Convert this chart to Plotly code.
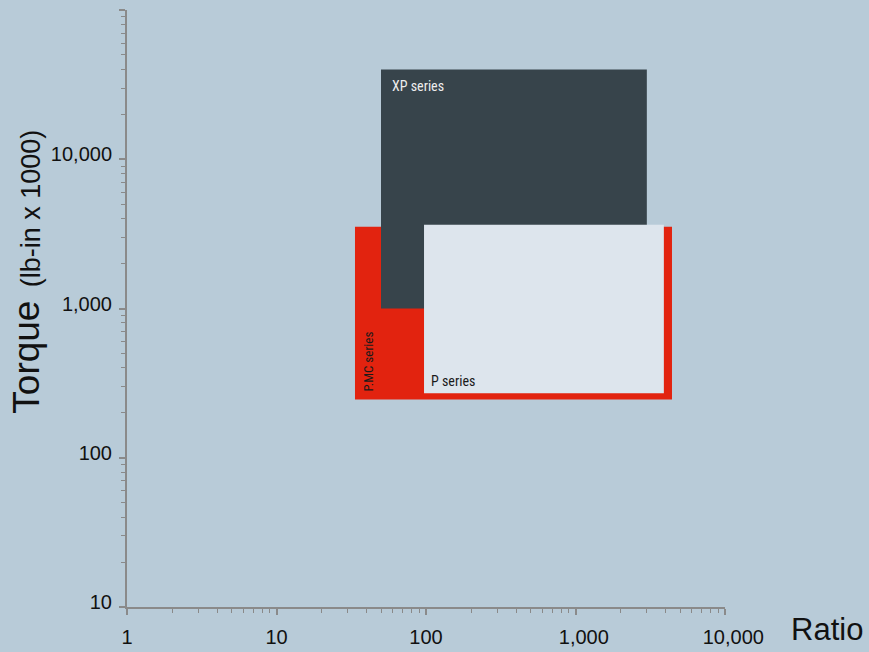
import math
import plotly.graph_objects as go

# Product families: gear-ratio span (x) and torque span in lb-in x 1000 (y)
series_names = ["P.MC series", "XP series", "P series"]
ratio_min = [33.5, 50, 97]
ratio_max = [4420, 3000, 3900]
torque_min = [246, 1000, 270]
torque_max = [3530, 40000, 3640]
fill_colors = ["#e2230f", "#37444b", "#dde5ed"]

# Axis ticks
x_major = [1, 10, 100, 1000, 10000]
x_labels = ["1", "10", "100", "\u00a0\u00a0\u00a01,000", "\u00a0\u00a0\u00a010,000"]
y_major = [10, 100, 1000, 10000, 100000]
y_labels = ["10", "100", "1,000", "10,000", ""]
minor_steps = [2, 3, 4, 5, 6, 7, 8, 9]
x_minor = [d * s for d in x_major[:-1] for s in minor_steps]
y_minor = [d * s for d in y_major[:-1] for s in minor_steps]

BG = "#b8cbd8"
AXIS = "#8a8a8a"
SANS = "Liberation Sans, Arial, sans-serif"
TICK_FONT = dict(family=SANS, size=20, color="#111111")
NARROW = "Liberation Sans Narrow, Roboto Condensed, Arial Narrow, sans-serif"

fig = go.Figure()

for name, x0, x1, y0, y1, col in zip(series_names, ratio_min, ratio_max,
                                      torque_min, torque_max, fill_colors):
    fig.add_trace(go.Scatter(
        x=[x0, x1, x1, x0, x0],
        y=[y0, y0, y1, y1, y0],
        mode="lines",
        fill="toself",
        fillcolor=col,
        line=dict(width=0, color=col),
        name=name,
        hoverinfo="skip",
        showlegend=False,
    ))

lg = math.log10
idx = {n: i for i, n in enumerate(series_names)}

# Series labels, anchored to their block corners
i = idx["XP series"]
fig.add_annotation(x=lg(ratio_min[i]), y=lg(torque_max[i]), xref="x", yref="y",
                   text="XP series", showarrow=False, xanchor="left", yanchor="middle",
                   xshift=9, yshift=-17,
                   font=dict(family=NARROW, size=14, color="#eeeeee"))
i = idx["P series"]
fig.add_annotation(x=lg(ratio_min[i]), y=lg(torque_min[i]), xref="x", yref="y",
                   text="P series", showarrow=False, xanchor="left", yanchor="middle",
                   xshift=5, yshift=12,
                   font=dict(family=NARROW, size=14, color="#1a1a1a"))
i = idx["P.MC series"]
fig.add_annotation(x=lg(ratio_min[i]), y=lg(torque_min[i]), xref="x", yref="y",
                   text="P.MC series", showarrow=False, textangle=-90,
                   xanchor="center", yanchor="bottom",
                   xshift=13, yshift=6,
                   font=dict(family=NARROW, size=13, color="#1a1a1a"))

# Axis titles
fig.add_annotation(x=0, y=0.4176, xref="paper", yref="paper", text="Torque",
                   showarrow=False, textangle=-90, xanchor="center", yanchor="middle",
                   xshift=-100,
                   font=dict(family=SANS, size=37, color="#111111"))
fig.add_annotation(x=0, y=0.6678, xref="paper", yref="paper", text="(lb-in x 1000)",
                   showarrow=False, textangle=-90, xanchor="center", yanchor="middle",
                   xshift=-96,
                   font=dict(family=SANS, size=27, color="#111111"))
fig.add_annotation(x=1, y=0, xref="paper", yref="paper", text="Ratio",
                   showarrow=False, xanchor="center", yanchor="middle",
                   xshift=102, yshift=-22,
                   font=dict(family=SANS, size=31, color="#111111"))

axis_common = dict(
    type="log", showgrid=False, zeroline=False, automargin=False,
    showline=True, linecolor=AXIS, linewidth=2,
    ticks="outside", ticklen=6, tickwidth=1.5, tickcolor=AXIS,
    tickfont=TICK_FONT, tickmode="array",
)

fig.update_xaxes(range=[0, 4], tickvals=x_major, ticktext=x_labels,
                 ticklabelstandoff=5,
                 minor=dict(tickmode="array", tickvals=x_minor, ticks="outside",
                            ticklen=4, tickwidth=1, tickcolor=AXIS, showgrid=False),
                 **axis_common)
fig.update_yaxes(range=[1, 5], tickvals=y_major, ticktext=y_labels,
                 ticklabelstandoff=3, ticklabelshift=-5,
                 minor=dict(tickmode="array", tickvals=y_minor, ticks="outside",
                            ticklen=4, tickwidth=1, tickcolor=AXIS, showgrid=False),
                 **axis_common)

fig.update_layout(
    width=869, height=652,
    margin=dict(l=127, r=144, t=10, b=45, pad=0, autoexpand=False),
    paper_bgcolor=BG, plot_bgcolor=BG,
    showlegend=False,
    hovermode=False,
)

fig.write_html("out.html")
